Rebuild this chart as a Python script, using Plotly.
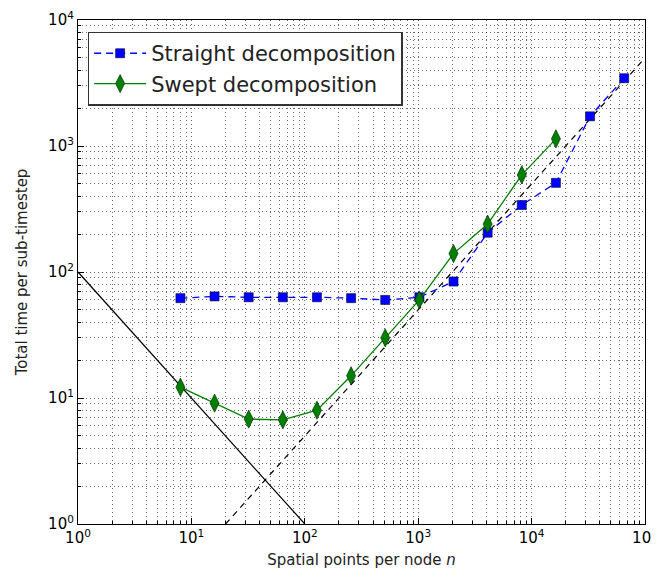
import plotly.graph_objects as go

# Data
straight_n = [8, 16, 32, 64, 128, 256, 512, 1024, 2048, 4096, 8192, 16384, 32768, 65536]
straight_t = [62, 64, 63, 63, 63, 62, 60, 63, 84, 205, 340, 510, 1720, 3450]
swept_n = [8, 16, 32, 64, 128, 256, 512, 1024, 2048, 4096, 8192, 16384]
swept_t = [12.2, 9.1, 6.8, 6.7, 8.0, 15, 30, 60, 140, 240, 590, 1140]
inv_x = [1, 100]
inv_y = [100, 1]
lin_x = [20, 100000]
lin_y = [1, 5000]

tick_vals = [1, 10, 100, 1000, 10000, 100000]
tick_text = ["10<sup>0</sup>", "10<sup>1</sup>", "10<sup>2</sup>", "10<sup>3</sup>", "10<sup>4</sup>", "10<sup>5</sup>"]
minor_vals = [m * d for d in [1, 10, 100, 1000, 10000] for m in range(2, 10)]

fig = go.Figure()
fig.add_trace(go.Scatter(x=inv_x, y=inv_y, mode="lines", line=dict(color="black", width=1.2),
                         showlegend=False, hoverinfo="skip"))
fig.add_trace(go.Scatter(x=lin_x, y=lin_y, mode="lines", line=dict(color="black", width=1.2, dash="6px,5px"),
                         showlegend=False, hoverinfo="skip"))
fig.add_trace(go.Scatter(x=straight_n, y=straight_t, mode="lines+markers", name="Straight decomposition",
                         line=dict(color="#0000ff", width=1.3, dash="7px,5px"),
                         marker=dict(symbol="square", size=9, color="#0000ff", line=dict(color="#000033", width=0.6))))
fig.add_trace(go.Scatter(x=swept_n, y=swept_t, mode="lines+markers", name="Swept decomposition",
                         line=dict(color="#008000", width=1.3),
                         marker=dict(symbol="diamond-tall", size=13, color="#007f00", line=dict(color="#002000", width=0.6))))

grid_style = dict(gridcolor="rgba(0,0,0,0.6)", griddash="1px,3px", gridwidth=1)
grid_common = dict(showgrid=True, **grid_style,
                   showline=True, linecolor="black", linewidth=1.2, mirror=True,
                   ticks="inside", ticklen=6, tickcolor="black", zeroline=False, automargin=False,
                   ticklabeloverflow="allow",
                   tickfont=dict(family="DejaVu Sans", size=15, color="black"),
                   minor=dict(tickvals=minor_vals, showgrid=True, **grid_style,
                              ticks="inside", ticklen=3, tickcolor="black"))

fig.update_xaxes(type="log", range=[0, 5], tickvals=tick_vals, ticktext=tick_text,
                 title=dict(text="Spatial points per node <i>n</i>", font=dict(family="DejaVu Sans", size=15, color="#222222"), standoff=8),
                 **grid_common)
fig.update_yaxes(type="log", range=[0, 4], tickvals=tick_vals[:5], ticktext=tick_text[:5],
                 title=dict(text="Total time per sub-timestep", font=dict(family="DejaVu Sans", size=15, color="#222222"), standoff=16),
                 **grid_common)

fig.update_layout(width=651, height=568, margin=dict(l=70, r=14, t=12, b=52),
                  plot_bgcolor="white", paper_bgcolor="white",
                  font=dict(family="DejaVu Sans", color="black"),
                  legend=dict(x=0.017, y=0.977, xanchor="left", yanchor="top",
                              bordercolor="#333333", borderwidth=1.5, bgcolor="white",
                              font=dict(family="DejaVu Sans", size=21, color="#222222"),
                              itemwidth=52, tracegroupgap=2))

fig.write_html("out.html")
